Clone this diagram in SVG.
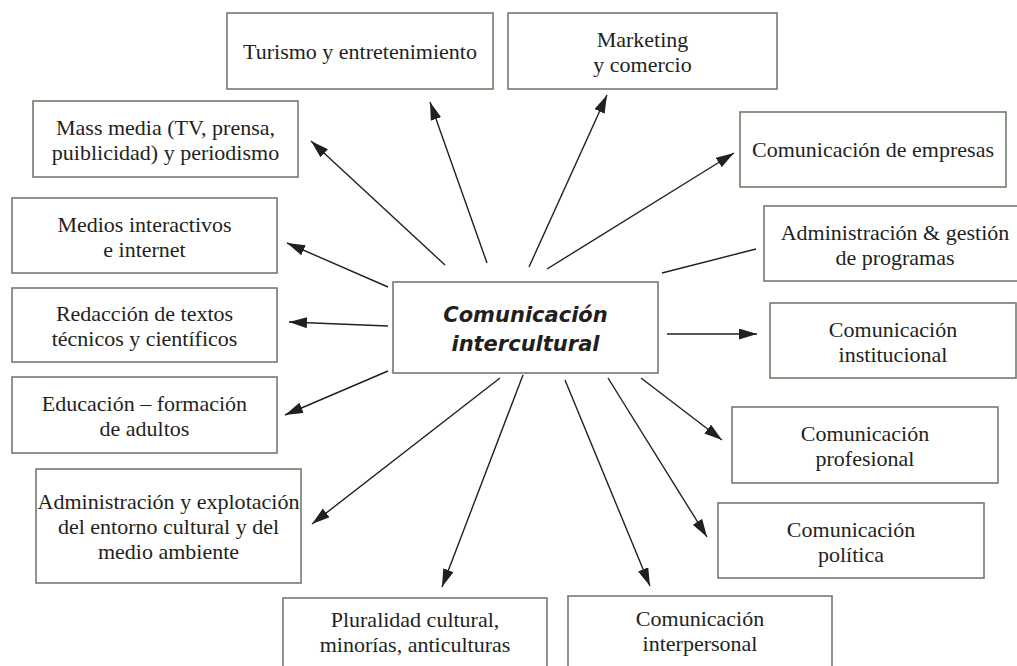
<svg xmlns="http://www.w3.org/2000/svg" width="1017" height="666" viewBox="0 0 1017 666">
<style>
.box{fill:#ffffff;stroke:#6f7d69;stroke-width:1.6}
.t{font-family:"Liberation Serif","Times New Roman",serif;font-size:22px;fill:#231f20;text-anchor:middle}
.c{font-family:"DejaVu Sans",Verdana,sans-serif;font-size:21px;font-weight:bold;font-style:italic;fill:#231f20;text-anchor:middle}
.ln{stroke:#231f20;stroke-width:1.4;fill:none}
.ar{marker-end:url(#ah)}
</style>
<defs>
<marker id="ah" markerUnits="userSpaceOnUse" markerWidth="19" markerHeight="12" refX="18" refY="5.5" orient="auto">
<path d="M0,0 L18,5.5 L0,11 z" fill="#231f20"/>
</marker>
</defs>
<rect width="1017" height="666" fill="#ffffff"/>
<g id="connectors">
<line class="ln ar" x1="487" y1="263" x2="430" y2="102"/>
<line class="ln ar" x1="529" y1="267" x2="607" y2="95"/>
<line class="ln ar" x1="445" y1="265" x2="311" y2="141"/>
<line class="ln ar" x1="547" y1="269" x2="734" y2="153"/>
<line class="ln" x1="662" y1="273" x2="756" y2="249"/>
<line class="ln ar" x1="667" y1="334" x2="757" y2="334"/>
<line class="ln ar" x1="388" y1="287" x2="287" y2="243"/>
<line class="ln ar" x1="388" y1="326" x2="289" y2="322"/>
<line class="ln ar" x1="388" y1="371" x2="285" y2="415"/>
<line class="ln ar" x1="500" y1="378" x2="312" y2="524"/>
<line class="ln ar" x1="523" y1="375" x2="442" y2="587"/>
<line class="ln ar" x1="565" y1="380" x2="650" y2="586"/>
<line class="ln ar" x1="608" y1="378" x2="707" y2="537"/>
<line class="ln ar" x1="641" y1="378" x2="722" y2="440"/>
</g>
<g id="center">
<rect class="box" x="393" y="282" width="265" height="91"/>
<text class="c" x="525.5" y="322">Comunicación</text>
<text class="c" x="525.5" y="351">intercultural</text>
</g>
<g id="turismo">
<rect class="box" x="227" y="13" width="266" height="76"/>
<text class="t" x="360" y="59">Turismo y entretenimiento</text>
</g>
<g id="marketing">
<rect class="box" x="508" y="13" width="269" height="76"/>
<text class="t" x="642.5" y="47">Marketing</text>
<text class="t" x="642.5" y="72">y comercio</text>
</g>
<g id="massmedia">
<rect class="box" x="33" y="101" width="265" height="76"/>
<text class="t" x="165.5" y="135">Mass media (TV, prensa,</text>
<text class="t" x="165.5" y="160">puiblicidad) y periodismo</text>
</g>
<g id="empresas">
<rect class="box" x="740" y="112" width="266" height="75"/>
<text class="t" x="873" y="157">Comunicación de empresas</text>
</g>
<g id="gestion">
<rect class="box" x="764" y="206" width="262" height="75"/>
<text class="t" x="895" y="240">Administración &amp; gestión</text>
<text class="t" x="895" y="265">de programas</text>
</g>
<g id="institucional">
<rect class="box" x="770" y="303" width="246" height="75"/>
<text class="t" x="893" y="337">Comunicación</text>
<text class="t" x="893" y="362">institucional</text>
</g>
<g id="medios">
<rect class="box" x="12" y="198" width="265" height="75"/>
<text class="t" x="144.5" y="232">Medios interactivos</text>
<text class="t" x="144.5" y="257">e internet</text>
</g>
<g id="redaccion">
<rect class="box" x="12" y="288" width="265" height="74"/>
<text class="t" x="144.5" y="321">Redacción de textos</text>
<text class="t" x="144.5" y="346">técnicos y científicos</text>
</g>
<g id="educacion">
<rect class="box" x="12" y="377" width="265" height="76"/>
<text class="t" x="144.5" y="411">Educación – formación</text>
<text class="t" x="144.5" y="436">de adultos</text>
</g>
<g id="explotacion">
<rect class="box" x="36" y="469" width="265" height="114"/>
<text class="t" x="168.5" y="509" textLength="262" lengthAdjust="spacingAndGlyphs">Administración y explotación</text>
<text class="t" x="168.5" y="534">del entorno cultural y del</text>
<text class="t" x="168.5" y="559">medio ambiente</text>
</g>
<g id="pluralidad">
<rect class="box" x="283" y="598" width="264" height="80"/>
<text class="t" x="415" y="627">Pluralidad cultural,</text>
<text class="t" x="415" y="652">minorías, anticulturas</text>
</g>
<g id="interpersonal">
<rect class="box" x="568" y="596" width="264" height="80"/>
<text class="t" x="700" y="626">Comunicación</text>
<text class="t" x="700" y="651">interpersonal</text>
</g>
<g id="profesional">
<rect class="box" x="732" y="407" width="266" height="76"/>
<text class="t" x="865" y="441">Comunicación</text>
<text class="t" x="865" y="466">profesional</text>
</g>
<g id="politica">
<rect class="box" x="718" y="503" width="266" height="75"/>
<text class="t" x="851" y="537">Comunicación</text>
<text class="t" x="851" y="562">política</text>
</g>
</svg>
